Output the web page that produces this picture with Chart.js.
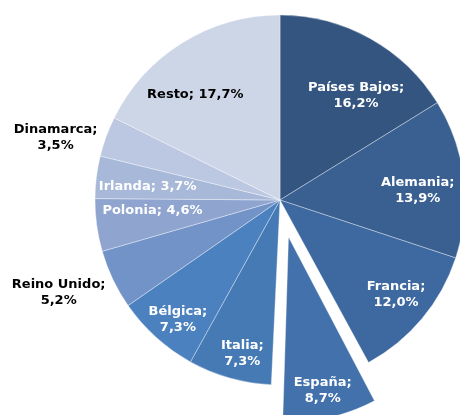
<!DOCTYPE html>
<html>
<head>
<meta charset="utf-8">
<script src="https://cdn.jsdelivr.net/npm/chart.js@4/dist/chart.umd.min.js"></script>
<style>
  html, body { margin: 0; padding: 0; background: #fff; }
  #wrap { width: 460px; height: 415px; }
</style>
</head>
<body>
<div id="wrap"><canvas id="pie" width="460" height="415"></canvas></div>
<script>
// Datos del gráfico
const paises = ["Países Bajos", "Alemania", "Francia", "España", "Italia", "Bélgica",
                "Reino Unido", "Polonia", "Irlanda", "Dinamarca", "Resto"];
const cuotas = [16.2, 13.9, 12.0, 8.7, 7.3, 7.3, 5.2, 4.6, 3.7, 3.5, 17.7];

// Estilo de cada porción
const colores = ["#33557f", "#3a5f91", "#3e68a0", "#4271ab", "#467ab5", "#4c81c0",
                 "#7293c7", "#8fa5d0", "#a8b8d9", "#bcc8e1", "#cdd6e7"];
// desplazamiento en px (Chart.js divide offset entre 4)
const separacion = [0, 0, 0, 38, 0, 0, 0, 0, 0, 0, 0];
const RADIO = 185;

// Etiquetas: distancia al centro, giro respecto al centro de la porción, color, una o dos líneas
const radioEtiqueta = [129, 138, 150, 195, 158, 157, 240, 128, 133, 233, 135];
const giroEtiqueta = [7, 3, -0.5, 0.3, -2, -1.5, 2.7, 3, -1.5, -4.4, -7];
const colorEtiqueta = ["#fff", "#fff", "#fff", "#fff", "#fff", "#fff", "#000", "#fff", "#fff", "#000", "#000"];
const unaLinea = [false, false, false, false, false, false, false, true, true, false, true];

function fmt(v) {
    return v.toFixed(1).replace(".", ",") + "%";
}

// Chart.js agranda el radio de la porción separada; se compensa aquí
const radioFijo = {
    id: "radioFijo",
    beforeDatasetsDraw(chart) {
        chart.getDatasetMeta(0).data.forEach(function (arc, i) {
            const fix = 1 - Math.sin(Math.min(Math.PI, arc.circumference || 0));
            arc.outerRadius = RADIO - separacion[i] * fix;
        });
    }
};

// Plugin para escribir las etiquetas de cada porción
const etiquetas = {
    id: "etiquetas",
    afterDatasetsDraw(chart) {
        const ctx = chart.ctx;
        const arcs = chart.getDatasetMeta(0).data;
        ctx.save();
        ctx.font = "bold 13px 'DejaVu Sans', Verdana, sans-serif";
        ctx.textAlign = "center";
        ctx.textBaseline = "middle";
        arcs.forEach(function (arc, i) {
            const mid = (arc.startAngle + arc.endAngle) / 2 + giroEtiqueta[i] * Math.PI / 180;
            const x = arc.x + Math.cos(mid) * radioEtiqueta[i];
            const y = arc.y + Math.sin(mid) * radioEtiqueta[i];
            ctx.fillStyle = colorEtiqueta[i];
            if (unaLinea[i]) {
                ctx.fillText(paises[i] + "; " + fmt(cuotas[i]), x, y);
            } else {
                ctx.fillText(paises[i] + ";", x, y - 8);
                ctx.fillText(fmt(cuotas[i]), x, y + 8);
            }
        });
        ctx.restore();
    }
};

new Chart(document.getElementById("pie"), {
    type: "pie",
    data: {
        labels: paises,
        datasets: [{
            data: cuotas,
            backgroundColor: colores,
            borderColor: "rgba(255,255,255,0.35)",
            borderWidth: 1,
            offset: separacion.map(function (s) { return s * 4; }),
            hoverOffset: 0,
            clip: false
        }]
    },
    options: {
        responsive: false,
        animation: false,
        events: [],
        radius: RADIO,
        layout: { padding: { left: 100, right: 0, top: 0, bottom: 15 } },
        plugins: {
            legend: { display: false },
            tooltip: { enabled: false }
        }
    },
    plugins: [radioFijo, etiquetas]
});
</script>
</body>
</html>
